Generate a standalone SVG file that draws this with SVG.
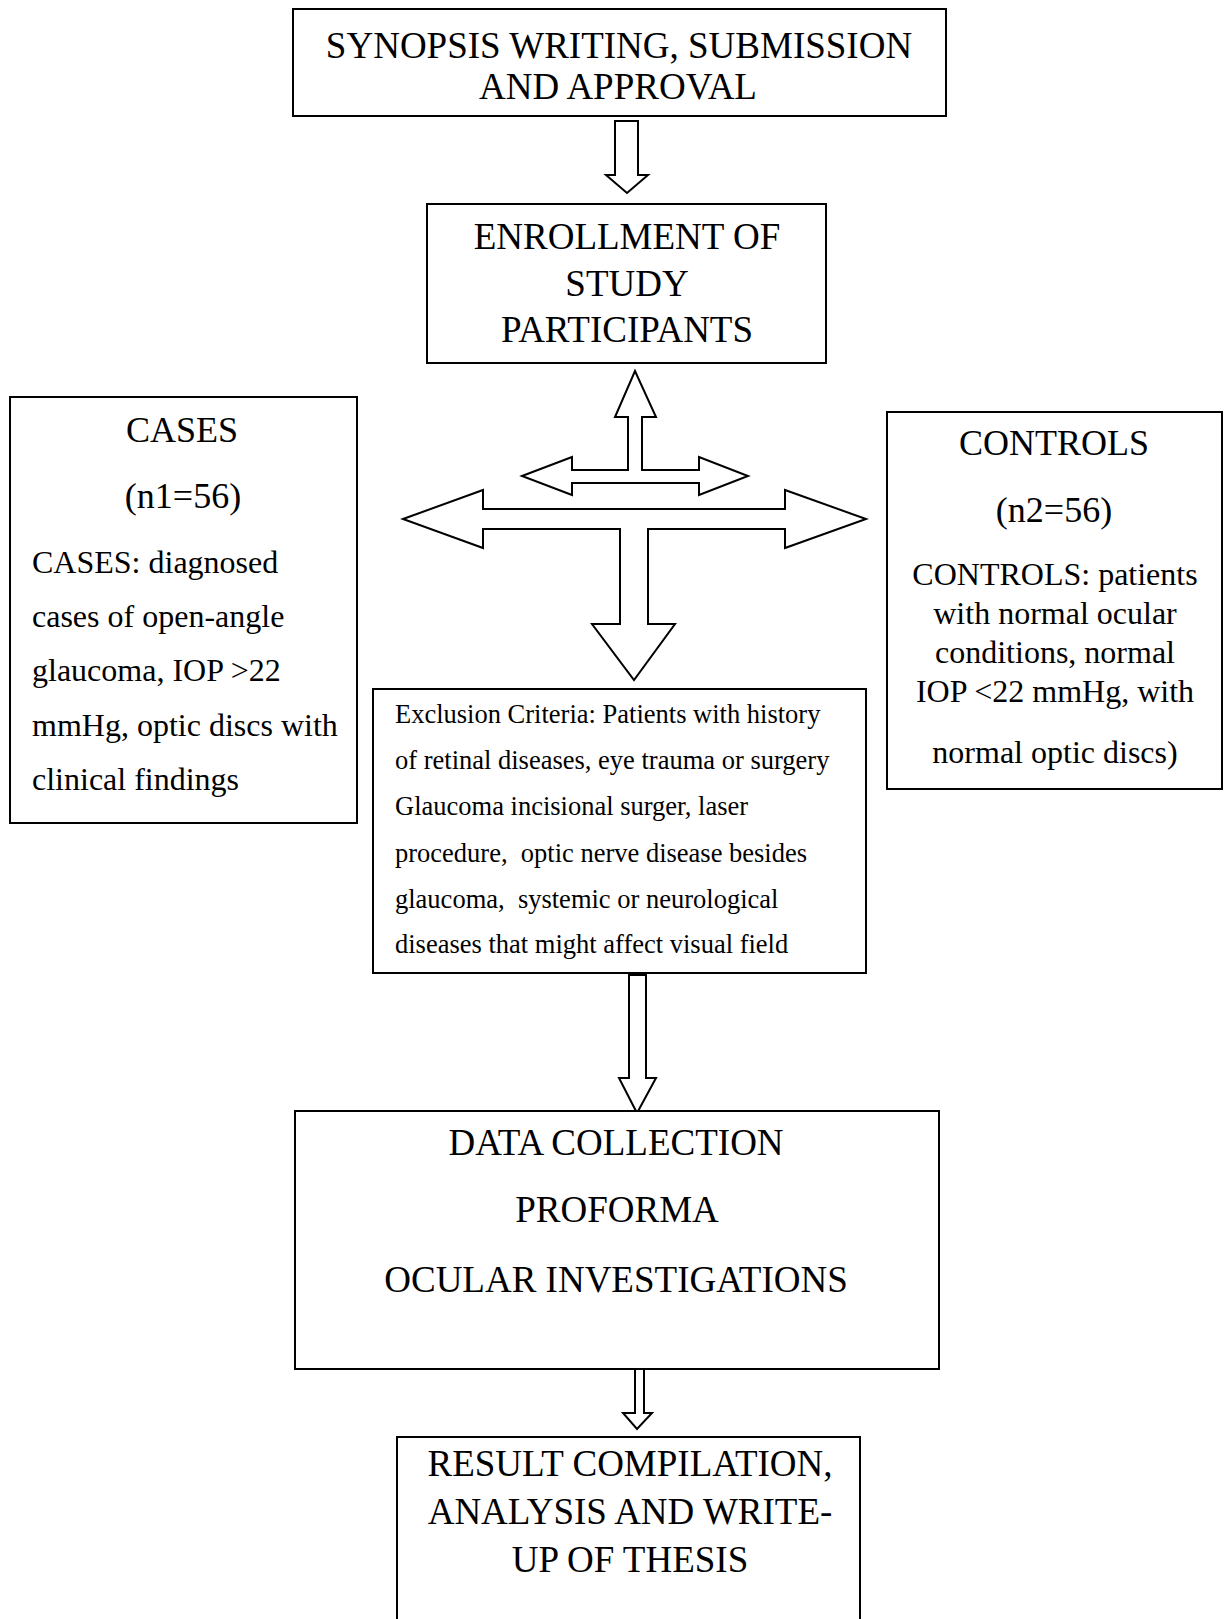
<svg xmlns="http://www.w3.org/2000/svg" width="1229" height="1619" viewBox="0 0 1229 1619">
<style>
.box{fill:#fff;stroke:#000;stroke-width:2}
.arr{fill:#fff;stroke:#000;stroke-width:2;stroke-linejoin:miter}
text{font-family:"Liberation Serif","Times New Roman",serif;fill:#000}
.big{font-size:37px;text-anchor:middle}
.ttl{font-size:36px;text-anchor:middle}
.body{font-size:32px}
.bodyc{font-size:32px;text-anchor:middle}
.small{font-size:26.5px}
</style>
<rect width="1229" height="1619" fill="#fff"/>
<g id="connectors">
<polygon class="arr" points="615,121 638,121 638,175 648,175 627,193 606,175 615,175"/>
<polygon class="arr" points="522,476 572,457 572,470 628,470 628,417 615,417 635,371 656,417 642,417 642,470 699,470 699,457 748,476 699,495 699,483 572,483 572,495"/>
<polygon class="arr" points="403,519 483,490 483,509 785,509 785,490 866,519 785,548 785,529 648,529 648,624 675,624 634,680 592,624 620,624 620,529 483,529 483,548"/>
<polygon class="arr" points="629,975 646,975 646,1078 656,1078 637,1113 619,1078 629,1078"/>
<polygon class="arr" points="635,1369 644,1369 644,1413 652,1413 637,1429 623,1413 635,1413"/>
</g>
<g id="synopsis">
<rect class="box" x="293" y="9" width="653" height="107"/>
<text class="big" x="619" y="58">SYNOPSIS WRITING, SUBMISSION</text>
<text class="big" x="618" y="99">AND APPROVAL</text>
</g>
<g id="enrollment">
<rect class="box" x="427" y="204" width="399" height="159"/>
<text class="big" x="627" y="249">ENROLLMENT OF</text>
<text class="big" x="627" y="296">STUDY</text>
<text class="big" x="627" y="342">PARTICIPANTS</text>
</g>
<g id="cases">
<rect class="box" x="10" y="397" width="347" height="426"/>
<text class="ttl" x="182" y="442">CASES</text>
<text class="ttl" x="183" y="508">(n1=56)</text>
<text class="body" x="32" y="573">CASES: diagnosed</text>
<text class="body" x="32" y="627">cases of open-angle</text>
<text class="body" x="32" y="681">glaucoma, IOP &gt;22</text>
<text class="body" x="32" y="736">mmHg, optic discs with</text>
<text class="body" x="32" y="790">clinical findings</text>
</g>
<g id="controls">
<rect class="box" x="887" y="412" width="335" height="377"/>
<text class="ttl" x="1054" y="455">CONTROLS</text>
<text class="ttl" x="1054" y="522">(n2=56)</text>
<text class="bodyc" x="1055" y="585">CONTROLS: patients</text>
<text class="bodyc" x="1055" y="624">with normal ocular</text>
<text class="bodyc" x="1055" y="663">conditions, normal</text>
<text class="bodyc" x="1055" y="702">IOP &lt;22 mmHg, with</text>
<text class="bodyc" x="1055" y="763">normal optic discs)</text>
</g>
<g id="exclusion">
<rect class="box" x="373" y="689" width="493" height="284"/>
<text class="small" x="395" y="723">Exclusion Criteria: Patients with history</text>
<text class="small" x="395" y="769">of retinal diseases, eye trauma or surgery</text>
<text class="small" x="395" y="815">Glaucoma incisional surger, laser</text>
<text class="small" x="395" y="862" xml:space="preserve">procedure,  optic nerve disease besides</text>
<text class="small" x="395" y="908" xml:space="preserve">glaucoma,  systemic or neurological</text>
<text class="small" x="395" y="953">diseases that might affect visual field</text>
</g>
<g id="data">
<rect class="box" x="295" y="1111" width="644" height="258"/>
<text class="big" x="616" y="1155">DATA COLLECTION</text>
<text class="big" x="617" y="1222">PROFORMA</text>
<text class="big" x="616" y="1292">OCULAR INVESTIGATIONS</text>
</g>
<g id="result">
<rect class="box" x="397" y="1437" width="463" height="200"/>
<text class="big" x="630" y="1476">RESULT COMPILATION,</text>
<text class="big" x="630" y="1524">ANALYSIS AND WRITE-</text>
<text class="big" x="630" y="1572">UP OF THESIS</text>
</g>
</svg>
